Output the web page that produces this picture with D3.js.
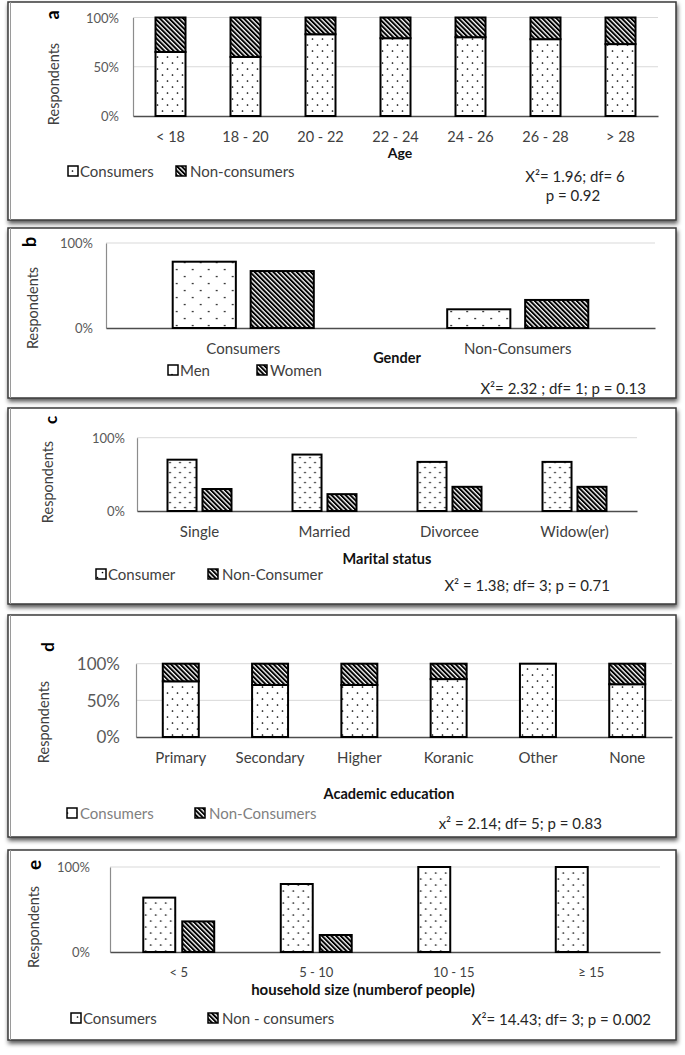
<!DOCTYPE html>
<html><head><meta charset="utf-8">
<script src="https://cdn.jsdelivr.net/npm/d3@7"></script>
<style>body{margin:0;background:#fff}svg{display:block}text{font-family:Lato,"Open Sans",sans-serif}</style>
</head><body>
<script>
// ---------- DATA ----------
const ageCategories = ["< 18","18 - 20","20 - 22","22 - 24","24 - 26","26 - 28","> 28"];
const ageConsumers = [65,60,83,79,80,78,73];
const ageNonConsumers = [35,40,17,21,20,22,27];
const ageTicks = [0,50,100];

const genderCategories = ["Consumers","Non-Consumers"];
const genderMen = [78,22];
const genderWomen = [67,33];
const genderTicks = [0,100];

const maritalCategories = ["Single","Married","Divorcee","Widow(er)"];
const maritalConsumer = [70,77,67,67];
const maritalNonConsumer = [30,23,33,33];
const maritalTicks = [0,100];

const eduCategories = ["Primary","Secondary","Higher","Koranic","Other","None"];
const eduConsumers = [76,71,71,79,100,72];
const eduNonConsumers = [24,29,29,21,0,28];
const eduTicks = [0,50,100];

const hhCategories = ["< 5","5 - 10","10 - 15","\u2265 15"];
const hhConsumers = [64,80,100,100];
const hhNonConsumers = [36,20,0,0];
const hhTicks = [0,100];

// ---------- SVG ----------
const W = 685, H = 1055;
const svg = d3.select("body").append("svg").attr("width", W).attr("height", H);
const defs = svg.append("defs");

const f = defs.append("filter").attr("id","shadow").attr("x","-5%").attr("y","-5%").attr("width","110%").attr("height","115%");
f.append("feDropShadow").attr("dx",1).attr("dy",3).attr("stdDeviation",2).attr("flood-color","#000").attr("flood-opacity",0.65);

function dotPattern(id, w, h){
  const p = defs.append("pattern").attr("id",id).attr("patternUnits","userSpaceOnUse").attr("width",w).attr("height",h);
  p.append("rect").attr("width",w).attr("height",h).attr("fill","#fff");
  p.append("circle").attr("cx",w*0.25).attr("cy",h*0.25).attr("r",0.85).attr("fill","#000");
  p.append("circle").attr("cx",w*0.75).attr("cy",h*0.75).attr("r",0.85).attr("fill","#000");
}
function stripePattern(id, s){
  const p = defs.append("pattern").attr("id",id).attr("patternUnits","userSpaceOnUse")
    .attr("width",s).attr("height",s).attr("patternTransform","rotate(-45)");
  p.append("rect").attr("width",s).attr("height",s).attr("fill","#fff");
  p.append("rect").attr("width",s*0.6).attr("height",s).attr("fill","#000");
}
dotPattern("dotsA",10,12);
dotPattern("dotsB",16,14);
dotPattern("dotsC",10,10);
dotPattern("dotsD",10,12);
dotPattern("dotsE",10,12);
stripePattern("stripes",3.3);

// ---------- PANEL BOXES ----------
const boxes = [[8,2,668,218],[8,228,668,170],[8,408,668,196],[8,615,668,222],[8,850,668,190]];
boxes.forEach(b => {
  svg.append("rect").attr("x",b[0]).attr("y",b[1]).attr("width",b[2]).attr("height",b[3])
    .attr("fill","#fff").attr("stroke","#3a3a3a").attr("stroke-width",1.5).attr("filter","url(#shadow)");
  svg.append("line").attr("x1",b[0]+2.5).attr("x2",b[0]+2.5).attr("y1",b[1]).attr("y2",b[1]+b[3])
    .attr("stroke","#9a9a9a").attr("stroke-width",1);
});

// ---------- HELPERS ----------
function text(x,y,str,opts={}){
  const t = svg.append("text").attr("x",x).attr("y",y).attr("dominant-baseline","central")
    .attr("text-anchor",opts.anchor||"middle").attr("font-size",opts.size||15)
    .attr("fill",opts.fill||"#404040").attr("font-weight",opts.bold?"bold":"normal").text(str);
  if (opts.rotate) t.attr("transform",`rotate(-90,${x},${y})`);
  return t;
}
function frame(x, y, ticks, cfg){
  svg.append("g").selectAll("line").data(ticks.filter(d=>d>0)).join("line")
    .attr("x1",x.range()[0]).attr("x2",x.range()[1])
    .attr("y1",d=>y(d)).attr("y2",d=>y(d)).attr("stroke","#d9d9d9").attr("stroke-width",1);
  const ya = svg.append("g").attr("transform",`translate(${x.range()[0]},0)`)
    .call(d3.axisLeft(y).tickValues(ticks).tickFormat(d=>d+"%").tickSize(0));
  ya.select(".domain").attr("stroke","#8c8c8c").attr("stroke-width",1.2);
  ya.selectAll("text").attr("x",cfg.tickRight - x.range()[0]).attr("dy","0.35em")
    .attr("font-family","Lato").attr("font-size",cfg.tickSize).attr("fill","#595959");
  const xa = svg.append("g").attr("transform",`translate(0,${y(0)})`)
    .call(d3.axisBottom(x).tickSize(0));
  xa.select(".domain").attr("stroke","#4d4d4d").attr("stroke-width",1.5);
  xa.selectAll("text").attr("y",cfg.catY - y(0)).attr("dy","0.35em")
    .attr("font-family","Lato").attr("font-size",cfg.catSize).attr("fill","#404040");
}
function legend(items, y, size, fill){
  items.forEach(it => {
    svg.append("rect").attr("x",it.sx).attr("y",y-5).attr("width",10).attr("height",10)
      .attr("fill",it.fill).attr("stroke","#000").attr("stroke-width",1.5);
    text(it.tx,y,it.label,{anchor:"start",size:size,fill:fill||"#404040"});
  });
}
function stacked(cats, cons, non, x, y, dotsId){
  const rows = cats.map((c,i)=>({cat:c, consumers:cons[i], non:non[i]}));
  const series = d3.stack().keys(["consumers","non"])(rows);
  const fills = {consumers:`url(#${dotsId})`, non:"url(#stripes)"};
  svg.append("g").selectAll("g").data(series).join("g")
    .attr("fill",s=>fills[s.key])
    .selectAll("rect").data(s=>s.filter(d=>d[1]>d[0])).join("rect")
    .attr("x",d=>x(d.data.cat)).attr("width",x.bandwidth())
    .attr("y",d=>y(d[1])).attr("height",d=>y(d[0])-y(d[1]))
    .attr("stroke","#000").attr("stroke-width",2);
}
function grouped(cats, s1, s2, x0, y, dotsId, innerPad){
  const x1 = d3.scaleBand().domain(["a","b"]).range([0,x0.bandwidth()]).paddingInner(innerPad);
  const rows = cats.map((c,i)=>({cat:c, vals:[{k:"a",v:s1[i]},{k:"b",v:s2[i]}]}));
  svg.append("g").selectAll("g").data(rows).join("g")
    .attr("transform",d=>`translate(${x0(d.cat)},0)`)
    .selectAll("rect").data(d=>d.vals.filter(v=>v.v>0)).join("rect")
    .attr("x",d=>x1(d.k)).attr("width",x1.bandwidth())
    .attr("y",d=>y(d.v)).attr("height",d=>y(0)-y(d.v))
    .attr("fill",d=>d.k==="a"?`url(#${dotsId})`:"url(#stripes)")
    .attr("stroke","#000").attr("stroke-width",2);
}

// ---------- PANEL A ----------
{
  const x = d3.scaleBand().domain(ageCategories).range([133,658]).paddingInner(0.6).paddingOuter(0.3);
  const y = d3.scaleLinear().domain([0,100]).range([116,17.5]);
  frame(x,y,ageTicks,{tickRight:119,tickSize:13,catY:137,catSize:14.5});
  stacked(ageCategories, ageConsumers, ageNonConsumers, x, y, "dotsA");
  text(52,15,"a",{bold:true,rotate:true,fill:"#000",size:18});
  text(53,84,"Respondents",{rotate:true,size:14.5});
  text(400,152,"Age",{bold:true,fill:"#111",size:14});
  legend([{sx:68,tx:80,label:"Consumers",fill:"url(#dotsA)"},{sx:176,tx:190,label:"Non-consumers",fill:"url(#stripes)"}],171,15);
  text(575,176,"X\u00b2= 1.96; df= 6",{size:15,fill:"#262626"});
  text(573,195,"p = 0.92",{size:15,fill:"#262626"});
}
// ---------- PANEL B ----------
{
  const x = d3.scaleBand().domain(genderCategories).range([106,655]).paddingInner(0.486).paddingOuter(0.243);
  const y = d3.scaleLinear().domain([0,100]).range([328,243]);
  frame(x,y,genderTicks,{tickRight:93,tickSize:13,catY:349,catSize:15});
  grouped(genderCategories, genderMen, genderWomen, x, y, "dotsB", 0.19);
  text(29,242,"b",{bold:true,rotate:true,fill:"#000",size:18});
  text(32,308,"Respondents",{rotate:true,size:14.5});
  text(397,357,"Gender",{bold:true,fill:"#111",size:14.5});
  legend([{sx:168,tx:180,label:"Men",fill:"url(#dotsB)"},{sx:257,tx:270,label:"Women",fill:"url(#stripes)"}],370,15);
  text(646,388,"X\u00b2= 2.32 ; df= 1; p = 0.13",{anchor:"end",size:15,fill:"#262626"});
}
// ---------- PANEL C ----------
{
  const x = d3.scaleBand().domain(maritalCategories).range([137,637]).paddingInner(0.488).paddingOuter(0.244);
  const y = d3.scaleLinear().domain([0,100]).range([511,437.7]);
  frame(x,y,maritalTicks,{tickRight:125,tickSize:13,catY:532,catSize:15});
  grouped(maritalCategories, maritalConsumer, maritalNonConsumer, x, y, "dotsC", 0.17);
  text(50,420,"c",{bold:true,rotate:true,fill:"#000",size:17});
  text(47,482,"Respondents",{rotate:true,size:14.5});
  text(387,558,"Marital status",{bold:true,fill:"#111",size:14.5});
  legend([{sx:96,tx:108,label:"Consumer",fill:"url(#dotsC)"},{sx:208,tx:222,label:"Non-Consumer",fill:"url(#stripes)"}],574,15);
  text(610,585,"X\u00b2 = 1.38; df= 3; p = 0.71",{anchor:"end",size:15,fill:"#262626"});
}
// ---------- PANEL D ----------
{
  const x = d3.scaleBand().domain(eduCategories).range([136,672]).paddingInner(0.597).paddingOuter(0.3);
  const y = d3.scaleLinear().domain([0,100]).range([737,663.7]);
  frame(x,y,eduTicks,{tickRight:120,tickSize:17,catY:758,catSize:15});
  stacked(eduCategories, eduConsumers, eduNonConsumers, x, y, "dotsD");
  text(47,647,"d",{bold:true,rotate:true,fill:"#000",size:17});
  text(43,722,"Respondents",{rotate:true,size:14.5});
  text(389,793,"Academic education",{bold:true,fill:"#111",size:14.5});
  legend([{sx:67,tx:80,label:"Consumers",fill:"url(#dotsD)"},{sx:195,tx:209,label:"Non-Consumers",fill:"url(#stripes)"}],813,15,"#7f7f7f");
  text(602,823,"x\u00b2 = 2.14; df= 5; p = 0.83",{anchor:"end",size:15,fill:"#262626"});
}
// ---------- PANEL E ----------
{
  const x = d3.scaleBand().domain(hhCategories).range([110,660]).paddingInner(0.484).paddingOuter(0.242);
  const y = d3.scaleLinear().domain([0,100]).range([952,867]);
  frame(x,y,hhTicks,{tickRight:90,tickSize:13,catY:972,catSize:13});
  grouped(hhCategories, hhConsumers, hhNonConsumers, x, y, "dotsE", 0.18);
  text(33,865,"e",{bold:true,rotate:true,fill:"#000",size:19});
  text(33,927,"Respondents",{rotate:true,size:14.5});
  text(363,989,"household size (numberof people)",{bold:true,fill:"#111",size:15});
  legend([{sx:71,tx:83,label:"Consumers",fill:"url(#dotsE)"},{sx:208,tx:222,label:"Non - consumers",fill:"url(#stripes)"}],1018,15);
  text(651,1019,"X\u00b2= 14.43; df= 3; p = 0.002",{anchor:"end",size:15,fill:"#262626"});
}
</script>
</body></html>
